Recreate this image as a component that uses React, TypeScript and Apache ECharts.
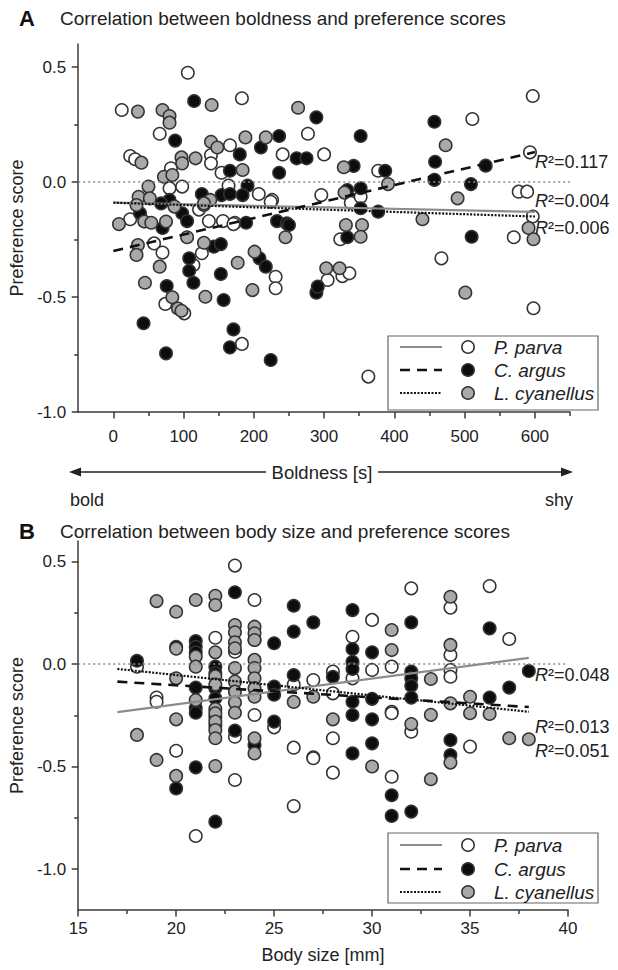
import React, { useEffect, useRef } from 'react';
import * as echarts from 'echarts';

// ---------- Panel A: boldness (s) vs preference score ----------
const boldMajorTicks = [0, 100, 200, 300, 400, 500, 600];
const boldMinorTicks = [50, 150, 250, 350, 450, 550, 650];
const scoreMajorTicks = [-1, -0.5, 0, 0.5];
const scoreMinorTicks = [-0.75, -0.25, 0.25];

const pParvaBold: number[][] = [
  [106, 0.475], [183, 0.364], [12, 0.313], [66, 0.21], [277, 0.21], [24, 0.113], [31, 0.099], [166, 0.16],
  [139, 0.117], [139, 0.081], [154, 0.04], [241, 0.12], [300, 0.12], [82, 0.06], [80, -0.027], [98, -0.02],
  [164, -0.016], [207, -0.052], [226, -0.078], [296, -0.057], [24, -0.162], [136, -0.17], [156, -0.17],
  [173, -0.177], [122, -0.12], [597, 0.374], [511, 0.274], [593, 0.129], [377, 0.049], [338, -0.09],
  [352, -0.064], [577, -0.042], [589, -0.042], [597, -0.15], [58, -0.267], [70, -0.307], [171, -0.183],
  [126, -0.31], [114, -0.361], [74, -0.53], [101, -0.571], [183, -0.704], [231, -0.412], [231, -0.462],
  [224, -0.086], [323, -0.249], [326, -0.409], [336, -0.397], [305, -0.426], [467, -0.332], [570, -0.24],
  [598, -0.549], [363, -0.846],
];
const cArgusBold: number[][] = [
  [115, 0.352], [289, 0.281], [88, 0.18], [236, 0.2], [210, 0.15], [180, 0.12], [261, 0.103], [275, 0.103],
  [166, 0.049], [236, 0.04], [191, -0.016], [126, -0.052], [154, -0.057], [166, -0.052], [184, -0.057],
  [80, -0.078], [68, -0.093], [38, -0.136], [98, -0.136], [105, -0.17], [189, -0.177], [233, -0.17],
  [247, -0.18], [352, 0.2], [457, 0.262], [342, 0.07], [387, 0.049], [458, 0.088], [530, 0.071], [457, 0.009],
  [509, -0.009], [333, -0.035], [352, -0.027], [352, -0.114], [377, -0.129], [70, -0.2], [143, -0.281],
  [153, -0.27], [108, -0.332], [108, -0.386], [114, -0.438], [153, -0.4], [76, -0.452], [157, -0.513],
  [43, -0.614], [171, -0.641], [166, -0.719], [75, -0.745], [224, -0.774], [208, -0.332], [217, -0.368],
  [250, -0.187], [289, -0.481], [291, -0.455], [333, -0.24], [510, -0.238],
];
const lCyanellusBold: number[][] = [
  [35, 0.306], [70, 0.313], [80, 0.287], [80, 0.258], [140, 0.335], [263, 0.323], [139, 0.175], [148, 0.15],
  [188, 0.194], [217, 0.194], [97, 0.107], [98, 0.081], [117, 0.103], [40, 0.084], [184, 0.052], [72, 0.023],
  [84, 0.03], [50, -0.02], [36, -0.064], [52, -0.071], [33, -0.1], [87, -0.107], [129, -0.1], [138, -0.078],
  [8, -0.183], [44, -0.172], [54, -0.177], [75, -0.172], [473, 0.16], [328, 0.064], [391, -0.009],
  [329, -0.046], [490, -0.071], [440, -0.162], [331, -0.187], [354, -0.187], [35, -0.274], [33, -0.317],
  [66, -0.368], [45, -0.438], [84, -0.501], [92, -0.55], [97, -0.56], [105, -0.24], [129, -0.264],
  [131, -0.499], [177, -0.351], [198, -0.47], [201, -0.303], [245, -0.24], [129, -0.093], [352, -0.238],
  [303, -0.375], [322, -0.375], [501, -0.481], [591, -0.2], [598, -0.249],
];
// regression fits: [x, y] end points
const fitPParvaBold = [[0, -0.09], [600, -0.13]];
const fitCArgusBold = [[0, -0.3], [600, 0.13]];
const fitLCyanellusBold = [[0, -0.09], [600, -0.15]];
const r2Bold = ['0.117', '0.004', '0.006'];

// ---------- Panel B: body size (mm) vs preference score ----------
const sizeMajorTicks = [15, 20, 25, 30, 35, 40];
const sizeMinorTicks = [17.5, 22.5, 27.5, 32.5, 37.5];

const pParvaSize: number[][] = [
  [23, 0.48], [24, 0.312], [22, 0.128], [23, 0.06], [18, -0.013], [19, -0.164], [27, -0.078], [26, -0.1],
  [32, 0.369], [36, 0.38], [34, 0.275], [30, 0.215], [37, 0.122], [29, 0.133], [29, -0.07], [30, -0.029],
  [31, -0.013], [34, 0.044], [34, -0.029], [34, -0.062], [28, -0.037], [28, -0.143], [31, -0.233],
  [19, -0.184], [23, -0.355], [24, -0.249], [25, -0.309], [26, -0.408], [27, -0.455], [20, -0.423],
  [23, -0.566], [26, -0.693], [21, -0.839], [28, -0.362], [27, -0.46], [28, -0.53], [31, -0.24],
  [31, -0.55], [32, -0.33], [35, -0.403], [22, -0.26], [22, -0.3],
];
const cArgusSize: number[][] = [
  [23, 0.35], [26, 0.284], [27, 0.203], [26, 0.158], [25, 0.101], [24, 0.117], [21, 0.112], [21, 0.084],
  [21, 0.057], [20, 0.084], [18, 0.016], [22, -0.013], [22, -0.045], [21, -0.115], [21, -0.215], [22, -0.118],
  [22, -0.167], [25, -0.11], [25, -0.15], [26, -0.054], [29, 0.263], [32, 0.203], [36, 0.174], [29, 0.073],
  [29, 0.011], [29, -0.024], [30, 0.057], [28, -0.062], [32, -0.037], [32, -0.07], [32, -0.106], [32, -0.164],
  [38, -0.034], [37, -0.115], [36, -0.164], [30, -0.17], [29, -0.184], [21, -0.238], [23, -0.325],
  [24, -0.395], [25, -0.281], [21, -0.504], [20, -0.607], [22, -0.769], [29, -0.249], [29, -0.436],
  [30, -0.27], [30, -0.387], [31, -0.64], [31, -0.741], [32, -0.72], [34, -0.371], [34, -0.444],
];
const lCyanellusSize: number[][] = [
  [19, 0.307], [20, 0.255], [21, 0.312], [22, 0.333], [22, 0.288], [23, 0.19], [23, 0.155], [23, 0.106],
  [23, 0.077], [24, 0.182], [24, 0.15], [24, 0.117], [22, 0.057], [21, 0.036], [21, -0.013], [20, 0.075],
  [20, -0.07], [22, -0.06], [22, -0.1], [23, -0.02], [23, -0.086], [23, -0.135], [23, -0.188], [24, 0.02],
  [24, -0.02], [24, -0.07], [24, -0.118], [24, -0.16], [21, -0.176], [22, -0.22], [26, -0.185], [27, -0.16],
  [34, 0.328], [31, 0.166], [31, 0.068], [34, 0.093], [33, -0.073], [35, -0.16], [34, -0.192], [33, -0.248],
  [18, -0.346], [20, -0.27], [22, -0.24], [22, -0.281], [22, -0.322], [22, -0.362], [23, -0.238],
  [24, -0.362], [24, -0.436], [19, -0.468], [22, -0.498], [20, -0.546], [28, -0.27], [30, -0.5],
  [32, -0.293], [33, -0.562], [34, -0.481], [35, -0.24], [36, -0.244], [37, -0.362], [38, -0.367],
];
const fitPParvaSize = [[17, -0.235], [38, 0.03]];
const fitCArgusSize = [[17, -0.086], [38, -0.21]];
const fitLCyanellusSize = [[17, -0.024], [38, -0.233]];
const r2Size = ['0.048', '0.013', '0.051'];

const speciesNames = ['P. parva', 'C. argus', 'L. cyanellus'];
const speciesFill = ['#ffffff', '#0d0d0d', '#a9a9a9'];

const FONT = '"Liberation Sans", Arial, Helvetica, sans-serif';
const AX = '#3a3a3a';
const TXT = '#222';

export default function App() {
  const ref = useRef<HTMLDivElement>(null);
  useEffect(() => {
    if (!ref.current) return;
    const chart = echarts.init(ref.current, undefined, { renderer: 'svg' });

    const axisLine = { show: true, onZero: false, lineStyle: { color: AX, width: 1.5 } };
    const labelStyle = { fontSize: 17, color: TXT, fontFamily: FONT };
    const nameStyle = { fontSize: 18, color: TXT, fontFamily: FONT };

    const xMain = (gridIndex: number, min: number, max: number, ticks: number[], margin: number, extra: any = {}) => ({
      type: 'value', gridIndex, min, max, position: 'bottom',
      axisLine,
      axisTick: { show: true, inside: false, length: 6.5, customValues: ticks, lineStyle: { color: AX, width: 1.5 } },
      axisLabel: { show: true, customValues: ticks, margin, ...labelStyle },
      splitLine: { show: false },
      ...extra,
    });
    const xMinor = (gridIndex: number, min: number, max: number, ticks: number[]) => ({
      type: 'value', gridIndex, min, max, position: 'bottom', offset: 0,
      axisLine: { show: false, onZero: false },
      axisTick: { show: true, inside: false, length: 4, customValues: ticks, lineStyle: { color: AX, width: 1.5 } },
      axisLabel: { show: false },
      splitLine: { show: false },
    });
    const yMain = (gridIndex: number, min: number, max: number) => ({
      type: 'value', gridIndex, min, max, position: 'left',
      axisLine,
      axisTick: { show: true, inside: false, length: 6.5, customValues: scoreMajorTicks, lineStyle: { color: AX, width: 1.5 } },
      axisLabel: { show: true, customValues: scoreMajorTicks, margin: 12, formatter: (v: number) => v.toFixed(1), ...labelStyle },
      splitLine: { show: false },
      name: 'Preference score', nameLocation: 'middle', nameRotate: 90, nameGap: 33,
      nameTextStyle: nameStyle,
    });
    const yMinor = (gridIndex: number, min: number, max: number) => ({
      type: 'value', gridIndex, min, max, position: 'left', offset: 0,
      axisLine: { show: false, onZero: false },
      axisTick: { show: true, inside: false, length: 4, customValues: scoreMinorTicks, lineStyle: { color: AX, width: 1.5 } },
      axisLabel: { show: false },
      splitLine: { show: false },
    });

    const zeroLine = {
      silent: true, symbol: 'none', label: { show: false },
      lineStyle: { type: [2, 3], color: '#8a8a8a', width: 1.5 },
      data: [{ yAxis: 0 }],
    };

    const scatter = (data: number[][], i: number, xi: number, yi: number, withZero = false) => ({
      type: 'scatter', name: speciesNames[i], data, xAxisIndex: xi, yAxisIndex: yi,
      symbol: 'circle', symbolSize: 12.5, z: 3,
      itemStyle: { color: speciesFill[i], borderColor: '#333', borderWidth: 1.5, opacity: 1 },
      ...(withZero ? { markLine: zeroLine } : {}),
    });
    const fitStyles = [
      { color: '#8c8c8c', width: 2.2, type: 'solid' },
      { color: '#111', width: 2.6, type: [10, 7] },
      { color: '#111', width: 2.2, type: [2, 1.5] },
    ];
    const fit = (data: number[][], i: number, xi: number, yi: number) => ({
      type: 'line', data, xAxisIndex: xi, yAxisIndex: yi, showSymbol: false, symbol: 'none', z: 5,
      lineStyle: fitStyles[i],
    });

    const r2Text = (x: number, y: number, v: string) => ({
      type: 'text', x, y, z: 10,
      style: {
        text: `{i|R}{n|²=${v}}`, verticalAlign: 'middle', align: 'left',
        rich: {
          i: { fontStyle: 'italic', fontSize: 18, fontFamily: FONT, fill: TXT },
          n: { fontSize: 18, fontFamily: FONT, fill: TXT },
        },
      },
    });

    const legend = (left: number, top: number, w: number, h: number, rows: number[]) => {
      const els: any[] = [
        { type: 'rect', shape: { x: left, y: top, width: w, height: h }, style: { fill: '#fff', stroke: '#666', lineWidth: 1.2 }, z: 20 },
      ];
      rows.forEach((ry, i) => {
        els.push({
          type: 'line', shape: { x1: 400, y1: ry, x2: 442, y2: ry }, z: 21,
          style: { stroke: fitStyles[i].color, lineWidth: fitStyles[i].width, lineDash: i === 0 ? null : (fitStyles[i].type as any) },
        });
        els.push({ type: 'circle', shape: { cx: 468, cy: ry, r: 6.2 }, z: 21, style: { fill: speciesFill[i], stroke: '#333', lineWidth: 1.5 } });
        els.push({
          type: 'text', x: 494, y: ry, z: 21,
          style: { text: speciesNames[i], fontStyle: 'italic', fontSize: 19, fontFamily: FONT, fill: TXT, verticalAlign: 'middle' },
        });
      });
      return els;
    };

    const option: any = {
      animation: false,
      backgroundColor: '#fff',
      grid: [
        { left: 68, top: 44, width: 502, height: 368 },
        { left: 69, top: 541, width: 499, height: 369 },
      ],
      xAxis: [
        xMain(0, -50, 650, boldMajorTicks, 16),
        xMinor(0, -50, 650, boldMinorTicks),
        xMain(1, 15, 40, sizeMajorTicks, 10, {
          name: 'Body size [mm]', nameLocation: 'middle', nameGap: 36,
          nameTextStyle: nameStyle,
        }),
        xMinor(1, 15, 40, sizeMinorTicks),
      ],
      yAxis: [yMain(0, -1, 0.6), yMinor(0, -1, 0.6), yMain(1, -1.2, 0.6), yMinor(1, -1.2, 0.6)],
      series: [
        scatter(pParvaBold, 0, 0, 0, true),
        scatter(cArgusBold, 1, 0, 0),
        scatter(lCyanellusBold, 2, 0, 0),
        fit(fitPParvaBold, 0, 0, 0),
        fit(fitCArgusBold, 1, 0, 0),
        fit(fitLCyanellusBold, 2, 0, 0),
        scatter(pParvaSize, 0, 2, 2, true),
        scatter(cArgusSize, 1, 2, 2),
        scatter(lCyanellusSize, 2, 2, 2),
        fit(fitPParvaSize, 0, 2, 2),
        fit(fitCArgusSize, 1, 2, 2),
        fit(fitLCyanellusSize, 2, 2, 2),
      ],
      graphic: [
        { type: 'text', x: 19, y: 18, style: { text: 'A', fontSize: 22, fontWeight: 'bold', fontFamily: FONT, fill: '#111', verticalAlign: 'middle' } },
        { type: 'text', x: 60, y: 18, style: { text: 'Correlation between boldness and preference scores', fontSize: 19, fontFamily: FONT, fill: TXT, verticalAlign: 'middle' } },
        { type: 'text', x: 19, y: 531, style: { text: 'B', fontSize: 22, fontWeight: 'bold', fontFamily: FONT, fill: '#111', verticalAlign: 'middle' } },
        { type: 'text', x: 60, y: 531, style: { text: 'Correlation between body size and preference scores', fontSize: 19, fontFamily: FONT, fill: TXT, verticalAlign: 'middle' } },
        // boldness axis title with arrows
        { type: 'line', shape: { x1: 74, y1: 472, x2: 266, y2: 472 }, style: { stroke: '#222', lineWidth: 1.5 } },
        { type: 'polygon', shape: { points: [[69, 472], [81, 467.5], [81, 476.5]] }, style: { fill: '#222' } },
        { type: 'line', shape: { x1: 378, y1: 472, x2: 566, y2: 472 }, style: { stroke: '#222', lineWidth: 1.5 } },
        { type: 'polygon', shape: { points: [[573, 472], [561, 467.5], [561, 476.5]] }, style: { fill: '#222' } },
        { type: 'text', x: 322, y: 472, style: { text: 'Boldness [s]', fontSize: 18.5, fontFamily: FONT, fill: TXT, align: 'center', verticalAlign: 'middle' } },
        { type: 'text', x: 70, y: 500, style: { text: 'bold', fontSize: 18, fontFamily: FONT, fill: TXT, verticalAlign: 'middle' } },
        { type: 'text', x: 573, y: 500, style: { text: 'shy', fontSize: 18, fontFamily: FONT, fill: TXT, align: 'right', verticalAlign: 'middle' } },
        r2Text(535, 162, r2Bold[0]),
        r2Text(535, 201, r2Bold[1]),
        r2Text(535, 228, r2Bold[2]),
        r2Text(535, 675, r2Size[0]),
        r2Text(535, 727, r2Size[1]),
        r2Text(535, 751, r2Size[2]),
        ...legend(388, 336, 210, 74, [347, 370, 393]),
        ...legend(388, 833, 210, 70, [845, 869, 892]),
      ],
    };
    chart.setOption(option);
    return () => chart.dispose();
  }, []);
  return <div ref={ref} style={{ position: 'absolute', left: 0, top: 0, width: 618, height: 970 }} />;
}
